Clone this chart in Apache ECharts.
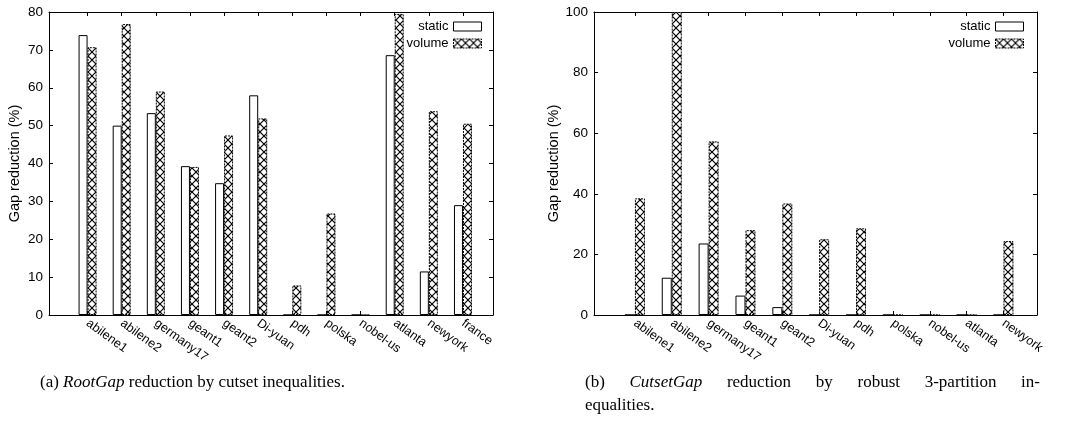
<!DOCTYPE html>
<html>
<head>
<meta charset="utf-8">
<script src="https://cdn.jsdelivr.net/npm/echarts@6/dist/echarts.min.js"></script>
<style>html,body{margin:0;padding:0;background:#fff}#c{width:1075px;height:423px}</style>
</head>
<body>
<div id="c"></div>
<script>
// ---- data ----
const catsA = ['abilene1','abilene2','germany17','geant1','geant2','Di-yuan','pdh','polska','nobel-us','atlanta','newyork','france'];
const staticA = [73.9, 50.0, 53.3, 39.3, 34.8, 58.0, 0, 0, 0, 68.6, 11.5, 29.0];
const volumeA = [70.7, 76.8, 59.0, 39.1, 47.4, 51.9, 7.8, 26.8, 0, 79.5, 53.8, 50.5];

const catsB = ['abilene1','abilene2','germany17','geant1','geant2','Di-yuan','pdh','polska','nobel-us','atlanta','newyork'];
const staticB = [0, 12.3, 23.6, 6.4, 2.6, 0, 0, 0, 0, 0, 0];
const volumeB = [38.5, 100, 57.3, 28.0, 36.8, 25.0, 28.6, 0, 0, 0, 24.4];

const yTicksA = [0, 10, 20, 30, 40, 50, 60, 70, 80];
const yTicksB = [0, 20, 40, 60, 80, 100];
const seriesNames = ['static', 'volume'];
const yName = 'Gap reduction (%)';
// ---------------

function makePattern() {
  const c = document.createElement('canvas');
  c.width = 8; c.height = 8;
  const g = c.getContext('2d');
  g.fillStyle = '#fff'; g.fillRect(0, 0, 8, 8);
  g.strokeStyle = '#000'; g.lineWidth = 1.2;
  g.beginPath();
  g.moveTo(0, 0); g.lineTo(8, 8);
  g.moveTo(8, 0); g.lineTo(0, 8);
  g.stroke();
  return { image: c, repeat: 'repeat' };
}
const pattern = makePattern();

const FONT = 'Liberation Sans';
const txt = { fontFamily: FONT, fontSize: 12.5, color: '#000' };

function idx(n) { return Array.from({length: n}, (_, i) => i); }

const chart = echarts.init(document.getElementById('c'));

function xAxes(cats, gridIndex, min, max) {
  const ticks = idx(cats.length);
  const base = {
    type: 'value', gridIndex, min, max,
    splitLine: { show: false },
    axisLine: { show: true, onZero: false, lineStyle: { color: '#000', width: 1 } },
    axisTick: { show: true, inside: true, length: 4, customValues: ticks, lineStyle: { color: '#000' } }
  };
  return [
    Object.assign({}, base, {
      position: 'bottom',
      axisLabel: Object.assign({}, txt, { show: true, customValues: ticks, rotate: -36, margin: 7,
        formatter: v => cats[Math.round(v)] })
    }),
    Object.assign({}, base, { position: 'top', axisLabel: { show: false } })
  ];
}
function yAxes(ticks, gridIndex, gap) {
  const mx = ticks[ticks.length - 1];
  const base = {
    type: 'value', gridIndex, min: 0, max: mx, interval: ticks[1] - ticks[0],
    splitLine: { show: false },
    axisLine: { show: true, onZero: false, lineStyle: { color: '#000', width: 1 } },
    axisTick: { show: true, inside: true, length: 4, lineStyle: { color: '#000' } }
  };
  return [
    Object.assign({}, base, {
      position: 'left', name: yName, nameLocation: 'middle', nameGap: gap,
      nameTextStyle: Object.assign({}, txt, { fontSize: 14.5 }),
      axisLabel: Object.assign({}, txt, { fontSize: 13.5, margin: 6 })
    }),
    Object.assign({}, base, { position: 'right', axisLabel: { show: false } })
  ];
}

function seriesFor(stat, vol, xi, yi, bw) {
  return [
    { name: seriesNames[0], type: 'bar', xAxisIndex: xi, yAxisIndex: yi, barWidth: bw, barGap: '0%',
      itemStyle: { color: '#fff', borderColor: '#000', borderWidth: 1 },
      data: stat.map((v, i) => [i, v]), animation: false, silent: true },
    { name: seriesNames[1], type: 'bar', xAxisIndex: xi, yAxisIndex: yi, barWidth: bw, barGap: '0%',
      itemStyle: { color: pattern, borderColor: '#000', borderWidth: 1, borderType: [2, 1] },
      data: vol.map((v, i) => [i, v]), animation: false, silent: true }
  ];
}

const legendBase = {
  orient: 'vertical', align: 'right', itemWidth: 28, itemHeight: 9, itemGap: 4,
  padding: 0, textStyle: Object.assign({}, txt, { fontSize: 13 }), selectedMode: false,
  icon: 'rect'
};
const legendData = [
  { name: 'static', itemStyle: { color: '#fff', borderColor: '#000', borderWidth: 1 } },
  { name: 'volume', itemStyle: { color: pattern, borderColor: '#000', borderWidth: 1, borderType: [2, 1] } }
];

const option = {
  animation: false,
  backgroundColor: '#fff',
  grid: [
    { left: 49, right: 1075 - 493, top: 12, bottom: 423 - 315 },
    { left: 594, right: 1075 - 1037, top: 12, bottom: 423 - 315 }
  ],
  xAxis: [].concat(xAxes(catsA, 0, -1.13, 11.88), xAxes(catsB, 1, -1.11, 10.91)),
  yAxis: [].concat(yAxes(yTicksA, 0, 27), yAxes(yTicksB, 1, 32)),
  legend: [
    Object.assign({}, legendBase, { right: 1075 - 482, top: 20, data: legendData }),
    Object.assign({}, legendBase, { right: 1075 - 1024, top: 20, data: legendData })
  ],
  series: [].concat(seriesFor(staticA, volumeA, 0, 0, 9), seriesFor(staticB, volumeB, 2, 2, 10))
};
chart.setOption(option);

// captions
const serif = 'Liberation Serif';
const capSize = 17;
const gfx = [];
gfx.push({ type: 'text', left: 40, top: 374, style: { text: '(a) {i|RootGap} reduction by cutset inequalities.',
  font: capSize + 'px "' + serif + '"', fill: '#000',
  rich: { i: { fontStyle: 'italic', fontFamily: serif, fontSize: capSize } } } });

// justified first line of caption (b)
const words = [['(b)', false], ['CutsetGap', true], ['reduction', false], ['by', false], ['robust', false], ['3-partition', false], ['in-', false]];
const mc = document.createElement('canvas').getContext('2d');
const L = 585, R = 1040;
const widths = words.map(([w, it]) => { mc.font = (it ? 'italic ' : '') + capSize + 'px "' + serif + '"'; return mc.measureText(w).width; });
const total = widths.reduce((a, b) => a + b, 0);
const gap = (R - L - total) / (words.length - 1);
let x = L;
words.forEach(([w, it], k) => {
  gfx.push({ type: 'text', left: x, top: 374, style: { text: w, font: (it ? 'italic ' : '') + capSize + 'px "' + serif + '"', fill: '#000' } });
  x += widths[k] + gap;
});
gfx.push({ type: 'text', left: L, top: 397, style: { text: 'equalities.', font: capSize + 'px "' + serif + '"', fill: '#000' } });
chart.setOption({ graphic: gfx });
</script>
</body>
</html>
